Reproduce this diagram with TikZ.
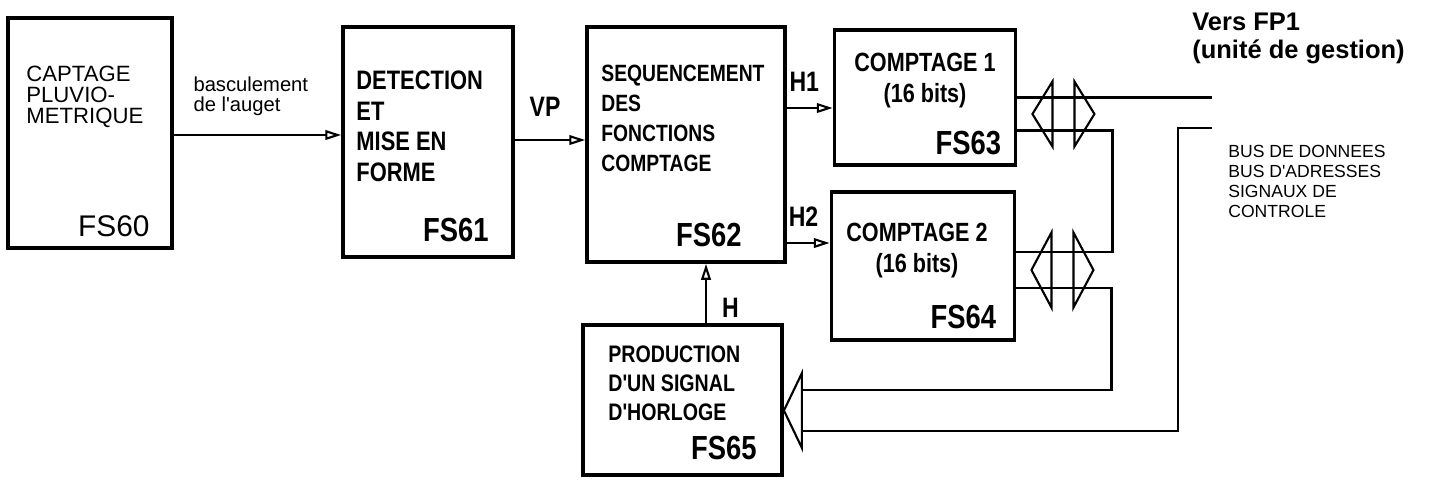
\documentclass[tikz,border=0pt]{standalone}
\usepackage{fontspec}
\setmainfont{Liberation Sans}
\newfontfamily\narrowsans{Liberation Sans}[FakeStretch=0.82]
\usetikzlibrary{arrows.meta}

\begin{document}
\begin{tikzpicture}[
  blk/.style={draw, line width=2.2pt, inner sep=0pt},
  txt/.style={anchor=north west, align=left, inner sep=0pt},
  bold/.style={txt, font=\narrowsans\bfseries\fontsize{15.2}{17.6}\selectfont},
  fsname/.style={anchor=south east, inner sep=0pt, font=\narrowsans\bfseries\fontsize{19}{21}\selectfont},
  sig/.style={-{Triangle[open, length=9pt, width=5.5pt]}, line width=1.2pt},
  siglbl/.style={inner sep=0pt, font=\narrowsans\bfseries\fontsize{16}{18}\selectfont},
  bus/.style={line width=1.2pt}
]
\useasboundingbox (0,0) rectangle (28.58,-9.6);

% blocs fonctionnels
\node[blk, minimum width=3.28cm, minimum height=4.6cm] (fs60) at (1.80,-2.66) {};
\node[txt, font=\fontsize{12.6}{11.8}\selectfont] (t60) at ([xshift=0.4cm,yshift=-1.0cm]fs60.north west) {CAPTAGE\\PLUVIO-\\METRIQUE};
\node[fsname, font=\fontsize{17}{19}\selectfont] (n60) at ([xshift=-0.48cm,yshift=0.26cm]fs60.south east) {FS60};

\node[blk, minimum width=3.4cm, minimum height=4.6cm] (fs61) at (8.56,-2.84) {};
\node[bold] (t61) at ([xshift=0.3cm,yshift=-0.9cm]fs61.north west) {DETECTION\\ET\\MISE EN\\FORME};
\node[fsname] (n61) at ([xshift=-0.52cm,yshift=0.34cm]fs61.south east) {FS61};

\node[blk, minimum width=3.96cm, minimum height=4.7cm] (fs62) at (13.72,-2.89) {};
\node[bold, font=\narrowsans\bfseries\fontsize{13.4}{17}\selectfont] (t62) at ([xshift=0.32cm,yshift=-0.8cm]fs62.north west) {SEQUENCEMENT\\DES\\FONCTIONS\\COMPTAGE};
\node[fsname] (n62) at ([xshift=-0.9cm,yshift=0.34cm]fs62.south east) {FS62};

\node[blk, minimum width=3.62cm, minimum height=2.7cm] (fs63) at (18.50,-1.95) {};
\node[bold, anchor=north, align=center, font=\narrowsans\bfseries\fontsize{15}{17.5}\selectfont] (t63) at ([yshift=-0.5cm]fs63.north) {COMPTAGE 1\\(16 bits)};
\node[fsname] (n63) at ([xshift=-0.32cm,yshift=0.24cm]fs63.south east) {FS63};

\node[blk, minimum width=3.66cm, minimum height=2.96cm] (fs64) at (18.46,-5.32) {};
\node[bold, anchor=north, align=center, font=\narrowsans\bfseries\fontsize{15}{17.5}\selectfont] (t64) at ([xshift=-0.12cm,yshift=-0.66cm]fs64.north) {COMPTAGE 2\\(16 bits)};
\node[fsname] (n64) at ([xshift=-0.4cm,yshift=0.26cm]fs64.south east) {FS64};

\node[blk, minimum width=3.98cm, minimum height=3.0cm] (fs65) at (13.65,-8.00) {};
\node[bold, font=\narrowsans\bfseries\fontsize{13.6}{16.5}\selectfont] (t65) at ([xshift=0.54cm,yshift=-0.44cm]fs65.north west) {PRODUCTION\\D'UN SIGNAL\\D'HORLOGE};
\node[fsname] (n65) at ([xshift=-0.54cm,yshift=0.34cm]fs65.south east) {FS65};

% signaux
\coordinate (in61) at ([yshift=0.14cm]fs61.west);
\coordinate (in62) at ([yshift=0.09cm]fs62.west);
\coordinate (in63) at ([yshift=-0.21cm]fs63.west);
\coordinate (in64) at ([yshift=0.46cm]fs64.west);
\draw[sig] (fs60.east |- in61) -- node[pos=0.46, above=0.36cm, inner sep=0pt, align=left, font=\fontsize{11.5}{11.4}\selectfont] (laug) {basculement\\de l\textquotesingle auget} (in61);
\draw[sig] (fs61.east |- in62) -- node[siglbl, pos=0.43, above=0.44cm] (lvp) {VP} (in62);
\draw[sig] (fs62.east |- in63) -- node[siglbl, pos=0.38, above=0.3cm] (lh1) {H1} (in63);
\draw[sig] (fs62.east |- in64) -- node[siglbl, pos=0.39, above=0.3cm] (lh2) {H2} (in64);
\draw[sig] ([xshift=0.47cm]fs65.north) -- node[siglbl, pos=0.25, right=0.3cm] (lh) {H} ([xshift=0.47cm]fs65.north |- fs62.south);

% bus vers FP1
\coordinate (a1) at (fs63.east);
\coordinate (a2) at ([yshift=-0.66cm]fs63.east);
\coordinate (b1) at ([yshift=0.28cm]fs64.east);
\coordinate (b2) at ([yshift=-0.44cm]fs64.east);
\coordinate (c0) at ([yshift=-0.21cm]fs65.east);
\coordinate (c1) at ([shift={(0.36,0.41)}]c0);
\coordinate (c2) at ([shift={(0.36,-0.41)}]c0);
\coordinate (fp1a) at (24.24,-1.95);
\coordinate (fp1b) at (24.24,-2.56);
\draw[bus] (a1) -- (fp1a);
\draw[bus] (a2) -- ++(1.9,0) |- (b1);
\draw[bus] (b2) -- ++(1.9,0) |- (c1);
\draw[bus] (fp1b) -- ++(-0.68,0) |- (c2);

% fleches de bus
\draw[bus] ([shift={(0.3,-0.33)}]fs63.east) -- ++(0.4,0.65) -- ++(0,-1.3) -- cycle;
\draw[bus] ([shift={(1.54,-0.33)}]fs63.east) -- ++(-0.4,0.65) -- ++(0,-1.3) -- cycle;
\draw[bus] ([shift={(0.3,-0.08)}]fs64.east) -- ++(0.4,0.75) -- ++(0,-1.5) -- cycle;
\draw[bus] ([shift={(1.54,-0.08)}]fs64.east) -- ++(-0.4,0.75) -- ++(0,-1.5) -- cycle;
\draw[bus] (c0) -- ++(0.36,0.75) -- ++(0,-1.5) -- cycle;

\node[txt, font=\bfseries\fontsize{14.5}{15.5}\selectfont] (vers) at (23.84,-0.26) {Vers FP1\\(unité de gestion)};
\node[txt, font=\fontsize{10}{11.4}\selectfont] (busl) at (24.56,-2.9) {BUS DE DONNEES\\BUS D\textquotesingle ADRESSES\\SIGNAUX DE\\CONTROLE};
\end{tikzpicture}
\end{document}
